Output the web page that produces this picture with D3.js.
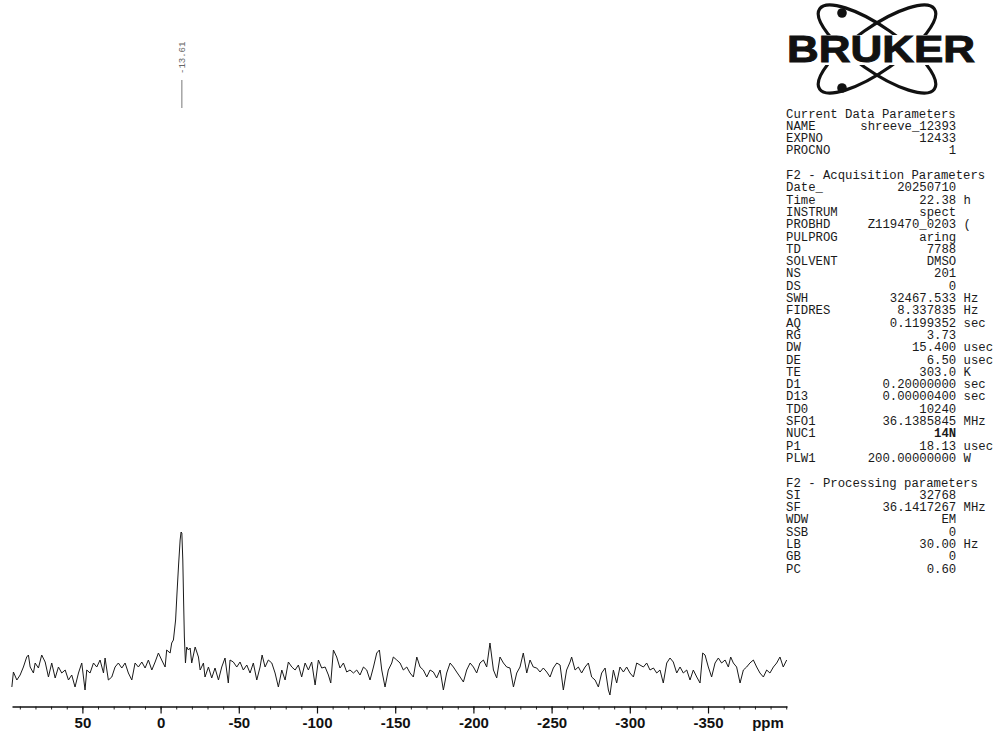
<!DOCTYPE html>
<html>
<head>
<meta charset="utf-8">
<script src="https://cdn.jsdelivr.net/npm/d3@7"></script>
<style>
  html, body { margin: 0; padding: 0; background: #fff; }
  svg { display: block; }
</style>
</head>
<body>
<svg id="chart" width="995" height="734"></svg>
<script>
// ---------------- DATA ----------------
const peakLabels = [-13.61];
const majorTicks = [50, 0, -50, -100, -150, -200, -250, -300, -350];
const minorTicks = d3.range(90, -401, -10);
const axisUnit = "ppm";

// [ppm, intensity]
const spectrum = [
  [95.1,-22],[94.1,-7],[91.9,-15],[89.8,-10],[87.7,-2],[85.6,8],[84.5,10],[83.4,-2],[81.3,-8],[80.2,2],
  [78.1,-3],[76.0,10],[73.8,3],[71.7,-12],[69.6,2],[67.4,-13],[65.3,-2],[63.2,-8],[61.0,-5],[58.9,-15],
  [56.8,-10],[54.7,-22],[52.5,-8],[50.4,2],[48.3,-25],[47.2,-5],[45.1,-8],[42.9,2],[40.8,-2],[38.7,5],
  [36.5,-8],[35.5,7],[33.4,-15],[31.2,-12],[29.1,-2],[27.0,2],[24.8,-3],[22.7,2],[20.6,-8],[18.4,-15],
  [16.3,2],[14.2,-2],[12.0,3],[9.9,-3],[7.8,5],[5.6,-5],[3.5,3],[1.4,12],[-0.7,5],[-2.9,-2],
  [-3.9,15],[-6.1,12],[-7.1,22],[-8.2,25],[-9.6,45],[-10.5,72],[-11.5,100],[-12.5,125],[-13.1,133],[-13.6,132],
  [-14.2,105],[-14.7,65],[-15.2,28],[-15.9,2],[-16.7,18],[-17.8,15],[-18.9,17],[-19.9,2],[-22.1,18],[-24.2,8],
  [-25.3,-5],[-27.4,2],[-28.4,-12],[-30.6,-2],[-32.7,-13],[-34.8,-3],[-37.0,-15],[-39.1,-2],[-41.2,7],[-43.3,-18],
  [-44.4,5],[-46.5,3],[-48.7,-2],[-50.8,3],[-52.9,-5],[-55.1,0],[-57.2,-8],[-59.3,2],[-61.5,-15],[-63.6,-2],
  [-64.9,10],[-66.8,-2],[-68.9,5],[-71.1,2],[-73.2,-8],[-75.3,-22],[-77.5,-5],[-79.6,-15],[-81.7,3],[-83.9,-2],
  [-86.0,-5],[-88.1,0],[-90.2,-12],[-92.4,2],[-94.5,-5],[-96.6,3],[-98.8,-20],[-100.9,5],[-103.0,-3],[-105.2,-2],
  [-107.3,-10],[-108.8,-18],[-110.5,15],[-112.6,8],[-114.7,-3],[-116.9,2],[-119.0,-7],[-121.1,-5],[-123.3,-8],[-125.4,-5],
  [-127.5,-10],[-129.7,-2],[-131.8,-5],[-133.9,-15],[-136.1,-2],[-138.2,12],[-139.9,15],[-141.4,-5],[-143.5,-22],[-145.6,-5],
  [-147.8,2],[-148.8,8],[-151.0,5],[-153.1,2],[-155.2,-5],[-157.4,-2],[-159.5,-8],[-161.6,-12],[-163.8,8],[-165.9,-2],
  [-168.0,-5],[-170.2,-12],[-172.3,-5],[-174.4,-7],[-176.5,-13],[-178.7,-5],[-180.8,-25],[-182.9,-8],[-185.1,2],[-187.2,-2],
  [-189.3,-7],[-191.5,-12],[-193.6,-17],[-195.7,-5],[-197.9,2],[-200.0,-2],[-202.1,-8],[-204.2,2],[-206.4,5],[-208.5,-2],
  [-210.6,22],[-212.8,-5],[-214.9,-13],[-217.0,8],[-219.2,2],[-221.3,-2],[-223.4,-3],[-225.6,-22],[-227.7,-8],[-229.8,-2],
  [-231.9,12],[-234.1,-8],[-236.2,5],[-238.3,-2],[-240.5,-3],[-242.6,-7],[-244.7,-3],[-246.9,-7],[-249.0,-12],[-251.1,-3],
  [-253.3,2],[-255.4,0],[-257.5,-25],[-259.6,-5],[-261.8,3],[-262.8,8],[-265.0,-5],[-267.1,-2],[-269.2,-8],[-271.4,-2],
  [-273.5,2],[-275.6,-12],[-277.8,-15],[-279.9,-22],[-282.0,-8],[-284.2,-3],[-286.3,-25],[-287.3,-30],[-289.5,-5],[-291.6,-18],
  [-293.7,-2],[-295.9,-7],[-298.0,-2],[-300.1,-8],[-302.3,-12],[-304.4,2],[-306.5,0],[-308.7,-2],[-310.8,2],[-312.9,-5],
  [-315.1,-3],[-317.2,-8],[-319.3,-5],[-321.4,-18],[-323.6,2],[-325.7,7],[-327.8,3],[-330.0,-8],[-332.1,-2],[-334.2,-8],
  [-336.4,-5],[-338.5,-15],[-340.6,-5],[-342.8,-12],[-344.9,-18],[-346.6,12],[-348.1,10],[-350.2,-2],[-352.3,-12],[-354.5,2],
  [-356.6,7],[-358.7,2],[-360.9,5],[-363.0,-2],[-364.5,8],[-366.2,2],[-368.3,-2],[-370.5,-18],[-372.6,-5],[-374.7,-2],
  [-376.8,2],[-379.0,5],[-381.1,-2],[-383.2,-8],[-385.4,-12],[-387.5,-5],[-389.6,-8],[-391.8,-2],[-393.9,2],[-396.0,8],
  [-398.1,-2],[-400.3,5]
];

const sectionTitles = ["Current Data Parameters", "F2 - Acquisition Parameters", "F2 - Processing parameters"];
const currentParams = [["NAME","shreeve_12393",""],["EXPNO","12433",""],["PROCNO","1",""]];
const acqParams = [
  ["Date_","20250710",""],["Time","22.38","h"],["INSTRUM","spect",""],["PROBHD","Z119470_0203","("],
  ["PULPROG","aring",""],["TD","7788",""],["SOLVENT","DMSO",""],["NS","201",""],["DS","0",""],
  ["SWH","32467.533","Hz"],["FIDRES","8.337835","Hz"],["AQ","0.1199352","sec"],["RG","3.73",""],
  ["DW","15.400","usec"],["DE","6.50","usec"],["TE","303.0","K"],["D1","0.20000000","sec"],
  ["D13","0.00000400","sec"],["TD0","10240",""],["SFO1","36.1385845","MHz"],["NUC1","14N",""],
  ["P1","18.13","usec"],["PLW1","200.00000000","W"]
];
const procParams = [["SI","32768",""],["SF","36.1417267","MHz"],["WDW","EM",""],["SSB","0",""],
  ["LB","30.00","Hz"],["GB","0",""],["PC","0.60",""]];
const brandName = "BRUKER";

// ---------------- DRAW ----------------
const svg = d3.select("#chart");

const x = d3.scaleLinear().domain([95, -400.5]).range([12, 787]);
const y = d3.scaleLinear().domain([0, 133]).range([665, 532]);
const axisY = 706.5;

// spectrum line
svg.append("path")
  .datum(spectrum)
  .attr("fill", "none")
  .attr("stroke", "#1a1a1a")
  .attr("stroke-width", 1)
  .attr("stroke-linejoin", "round")
  .attr("d", d3.line().x(d => x(d[0])).y(d => y(d[1])));

// minor ticks
const minorAxis = d3.axisBottom(x).tickValues(minorTicks).tickSize(3).tickSizeOuter(0).tickFormat("");
const gMinor = svg.append("g").attr("transform", `translate(0,${axisY})`).call(minorAxis);
gMinor.select(".domain").remove();
gMinor.selectAll("line").attr("stroke", "#222");

// major axis
const majorAxis = d3.axisBottom(x).tickValues(majorTicks).tickSize(7).tickSizeOuter(0)
  .tickPadding(4).tickFormat(d => String(d));
const gAxis = svg.append("g").attr("transform", `translate(0,${axisY})`).call(majorAxis);
gAxis.select(".domain").attr("stroke", "#111").attr("stroke-width", 1.3);
gAxis.selectAll(".tick line").attr("stroke", "#111").attr("stroke-width", 1.2);
gAxis.selectAll(".tick text")
  .attr("fill", "#111")
  .style("font-family", "'Liberation Sans', Arial, sans-serif")
  .style("font-weight", "bold")
  .style("font-size", "15px");

svg.append("text")
  .attr("x", 768).attr("y", 728)
  .attr("text-anchor", "middle")
  .style("font-family", "'Liberation Sans', Arial, sans-serif")
  .style("font-weight", "bold")
  .style("font-size", "15px")
  .attr("fill", "#111")
  .text(axisUnit);

// peak labels
peakLabels.forEach(p => {
  const px = x(p);
  svg.append("line")
    .attr("x1", px).attr("x2", px).attr("y1", 80).attr("y2", 108)
    .attr("stroke", "#777").attr("stroke-width", 1);
  svg.append("text")
    .attr("transform", `translate(${px + 3},74) rotate(-90)`)
    .attr("text-anchor", "start")
    .style("font-family", "'Liberation Mono', 'DejaVu Sans Mono', monospace")
    .style("font-size", "9px")
    .attr("fill", "#666")
    .text(p.toFixed(2));
});

// Logo
const logo = svg.append("g");
const lcx = 877, lcy = 49;
[35, -35].forEach(a => {
  logo.append("ellipse")
    .attr("cx", lcx).attr("cy", lcy).attr("rx", 70).attr("ry", 22)
    .attr("transform", `rotate(${a},${lcx},${lcy})`)
    .attr("fill", "none").attr("stroke", "#111").attr("stroke-width", 3.2);
});
logo.append("circle").attr("cx", 842).attr("cy", 13).attr("r", 4.8).attr("fill", "#111");
logo.append("circle").attr("cx", 842).attr("cy", 88).attr("r", 4.8).attr("fill", "#111");
logo.append("rect").attr("x", 785).attr("y", 35).attr("width", 192).attr("height", 30).attr("fill", "#fff");
logo.append("text")
  .attr("x", 787).attr("y", 62)
  .attr("textLength", 188).attr("lengthAdjust", "spacingAndGlyphs")
  .style("font-family", "'Liberation Sans', Arial, sans-serif")
  .style("font-weight", "900")
  .style("font-size", "37px")
  .attr("fill", "#111")
  .attr("stroke", "#111").attr("stroke-width", 1)
  .text(brandName);

// Parameters block
const pX = 786, charW = 7.4, lineH = 12.3, blockTopY = 117.5;
const valEnd = pX + 23 * charW, unitX = pX + 24 * charW;
const params = svg.append("g")
  .style("font-family", "'Liberation Mono', 'Courier New', monospace")
  .style("font-size", "12.3px")
  .attr("fill", "#1a1a1a");

const rows = [];
rows.push({title: sectionTitles[0]});
currentParams.forEach(r => rows.push({r}));
rows.push({blank: true});
rows.push({title: sectionTitles[1]});
acqParams.forEach(r => rows.push({r}));
rows.push({blank: true});
rows.push({title: sectionTitles[2]});
procParams.forEach(r => rows.push({r}));

rows.forEach((row, i) => {
  const yy = blockTopY + i * lineH;
  if (row.title) {
    params.append("text").attr("x", pX).attr("y", yy).text(row.title);
  } else if (row.r) {
    const [lab, val, unit] = row.r;
    params.append("text").attr("x", pX).attr("y", yy).text(lab);
    params.append("text").attr("x", valEnd).attr("y", yy).attr("text-anchor", "end")
      .style("font-weight", val === "14N" ? "bold" : "normal").text(val);
    if (unit) params.append("text").attr("x", unitX).attr("y", yy).text(unit);
  }
});
</script>
</body>
</html>
